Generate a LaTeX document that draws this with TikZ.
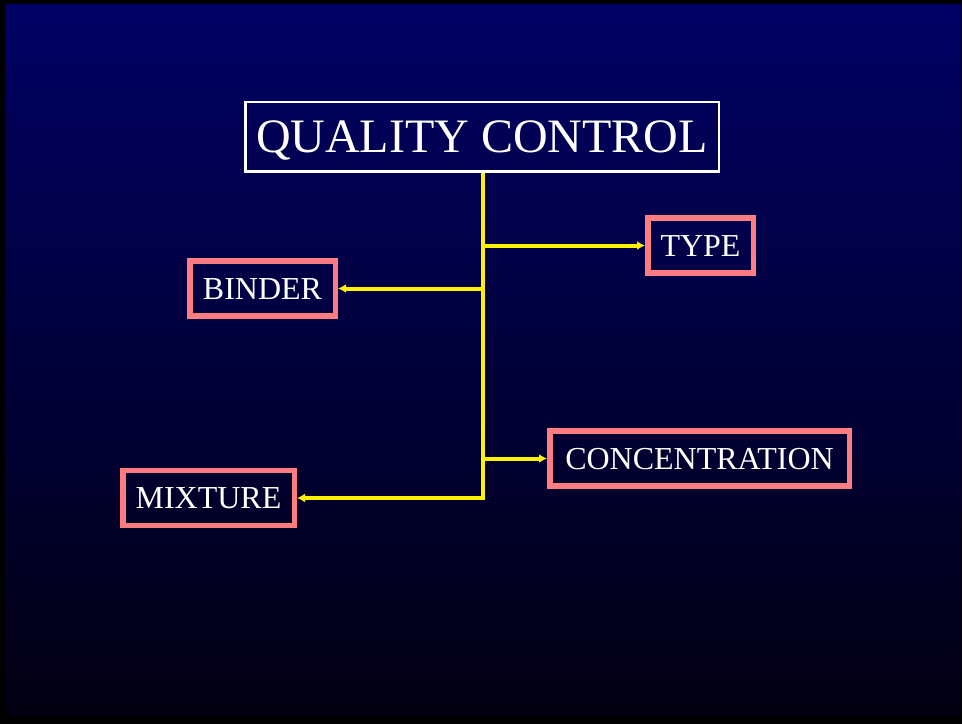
\documentclass[tikz,border=0pt]{standalone}
\usepackage{fontspec}
\setmainfont{Liberation Serif}
\usetikzlibrary{arrows.meta}
\definecolor{slidetop}{RGB}{0,0,100}
\definecolor{slidebot}{RGB}{3,0,18}
\definecolor{boxpink}{RGB}{255,124,128}
\tikzset{
  topic/.style={draw=white,line width=2.5pt,text=white,minimum width=473.5pt,minimum height=69.5pt,inner sep=0pt,
    text height=31.7pt,text depth=0pt,font=\fontsize{48}{56}\selectfont},
  item/.style={draw=boxpink,line width=5.5pt,text=white,minimum height=55pt,inner sep=0pt,
    text height=21.2pt,text depth=0pt,font=\fontsize{32}{38}\selectfont},
  branch/.style={draw=yellow,line width=4pt,-{Latex[length=8pt,width=9pt]}}
}
\begin{document}
\begin{tikzpicture}[x=1pt,y=-1pt]
  \useasboundingbox (0,0) rectangle (962,724);
  \fill[black] (0,0) rectangle (962,724);
  \shade[top color=slidetop,bottom color=slidebot] (5,4) rectangle (961,714);
  \node[topic] (title) at (482,136.5) {QUALITY CONTROL};
  \node[item,minimum width=105.5pt] (type) at (700.5,245.5) {TYPE};
  \node[item,minimum width=145.5pt] (binder) at (262.5,288.5) {BINDER};
  \node[item,minimum width=299.5pt] (conc) at (699.5,458.5) {CONCENTRATION};
  \node[item,minimum width=171.5pt] (mixture) at (208.5,498) {MIXTURE};
  \coordinate (joint) at (483,498);
  \draw[branch,line join=miter] (title.south -| joint) -- (joint) -- (mixture);
  \draw[branch] (joint |- type) -- (type);
  \draw[branch] (joint |- binder) -- (binder);
  \draw[branch] (joint |- conc) -- (conc);
\end{tikzpicture}
\end{document}
